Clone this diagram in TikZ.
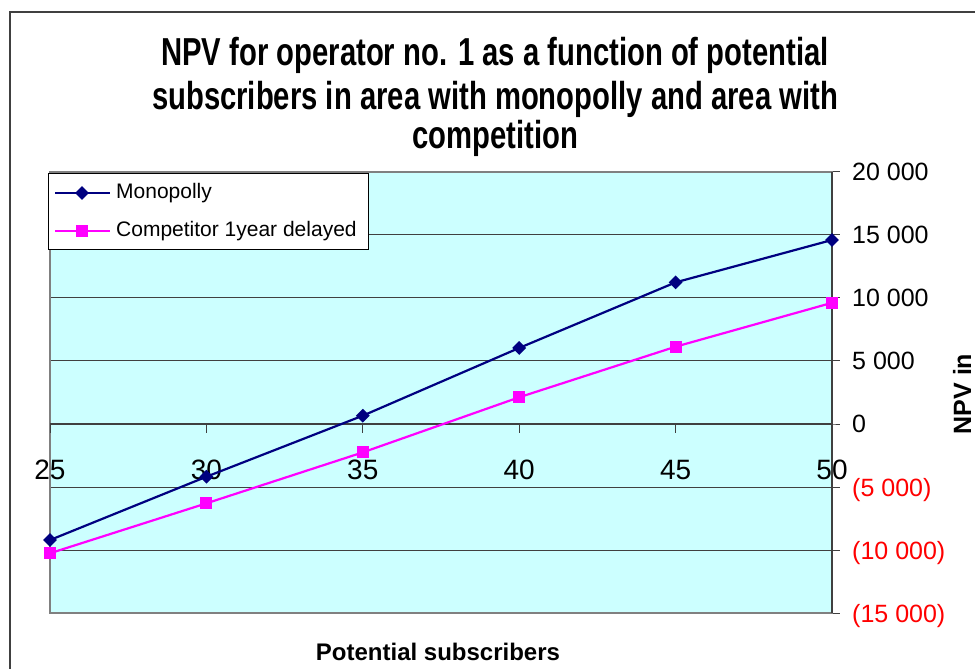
\documentclass[tikz,border=0pt]{standalone}
\usepackage{fontspec}
\setmainfont{Liberation Sans}
\usetikzlibrary{shapes.geometric}
\definecolor{plotcyan}{HTML}{CCFFFF}
\definecolor{mononavy}{HTML}{000080}
\definecolor{compmag}{HTML}{FF00FF}
\definecolor{gridgray}{HTML}{404040}
\tikzset{
  monoline/.style={mononavy, line width=2.2pt},
  compline/.style={compmag, line width=2.2pt},
  monomark/.style={diamond, fill=mononavy, inner sep=0pt, minimum size=14pt},
  compmark/.style={rectangle, fill=compmag, inner sep=0pt, minimum size=12pt},
  ticklabel/.style={inner sep=0pt, text depth=0pt, font=\fontsize{25}{30}\selectfont},
  titlefont/.style={font=\bfseries\fontsize{39}{41}\selectfont, xscale=0.75, inner sep=0pt, anchor=base},
}
\begin{document}
\begin{tikzpicture}[x=1pt, y=-1pt]
  \useasboundingbox (0,0) rectangle (975,669);
  \clip (0,0) rectangle (975,669);
  \draw [line width=2pt, gridgray] (10,700) -- (10,12) -- (1000,12); % cadre exterieur
  \node [titlefont] (title1) at (495,66) {NPV for operator no. 1 as a function of potential};
  \node [titlefont] (title2) at (495,110) {subscribers in area with monopolly and area with};
  \node [titlefont] (title3) at (495,148) {competition};
  \begin{scope}[x=31.28pt, y=12.612pt, shift={(-732pt,-424pt)}]
    \fill [plotcyan] (25,-15) rectangle (50,20); % fond
    \foreach \v in {-15,-10,...,20}
      \draw [gridgray, line width=0.9pt] (25,\v) -- (50,\v) -- ++(8pt,0); % grille + graduations
    \draw [gray, line width=2pt] (25,-15) rectangle (50,20); % cadre du graphe
    \draw [gridgray, line width=1.3pt] (50,-15) -- (50,20); % axe vertical
    \draw [gridgray, line width=1.3pt] (25,0) -- (50,0); % axe horizontal
    \foreach \s in {25,30,...,50} {
      \draw [gridgray, line width=1pt] (\s,0) -- ++(0,-9pt);
      \node [ticklabel, font=\fontsize{28}{30}\selectfont] (xl\s) at (\s,0) [yshift=-46pt] {\s};
    }
    \foreach \v/\t/\c [count=\i] in {20/{20 000}/black, 15/{15 000}/black, 10/{10 000}/black, 5/{5 000}/black, 0/0/black, -5/{(5 000)}/red, -10/{(10 000)}/red, -15/{(15 000)}/red}
      \node [ticklabel, anchor=west, text=\c] (yl\i) at (50,\v) [xshift=20pt] {\t};
    % donnees (milliers)
    \foreach \s/\m/\c in {25/-9.2/-10.25, 30/-4.18/-6.29, 35/0.66/-2.25, 40/6.03/2.12, 45/11.23/6.13, 50/14.59/9.61} {
      \coordinate (m\s) at (\s,\m);
      \coordinate (c\s) at (\s,\c);
    }
    \draw [compline] (c25) -- (c30) -- (c35) -- (c40) -- (c45) -- (c50);
    \draw [monoline] (m25) -- (m30) -- (m35) -- (m40) -- (m45) -- (m50);
    \foreach \s in {25,30,...,50} {
      \node [compmark] (cm\s) at (c\s) {};
      \node [monomark] (mm\s) at (m\s) {};
    }
  \end{scope}
  % legende
  \node [draw=black, fill=white, line width=0.8pt, minimum width=320pt, minimum height=76pt, inner sep=0pt, anchor=north west] (legend) at (48,173) {};
  \coordinate (lma) at (55,193); \coordinate (lmb) at (110,193);
  \coordinate (lca) at (55,231); \coordinate (lcb) at (110,231);
  \draw [monoline] (lma) -- (lmb);
  \node [monomark] (lmk) at (82,193) {};
  \node [anchor=west, inner sep=0pt, font=\fontsize{21}{24}\selectfont] (lmt) at (116,193) {Monopolly};
  \draw [compline] (lca) -- (lcb);
  \node [compmark] (lck) at (82,231) {};
  \node [anchor=west, inner sep=0pt, font=\fontsize{21}{24}\selectfont] (lct) at (116,231) {Competitor 1year delayed};
  % titres des axes
  \node [font=\bfseries\fontsize{24}{26}\selectfont, inner sep=0pt, anchor=base] (xtitle) at (438,660) {Potential subscribers};
  \node [font=\bfseries\fontsize{25}{28}\selectfont, inner sep=0pt, anchor=base, rotate=90] (ytitle) at (971,394) {NPV in};
\end{tikzpicture}
\end{document}
